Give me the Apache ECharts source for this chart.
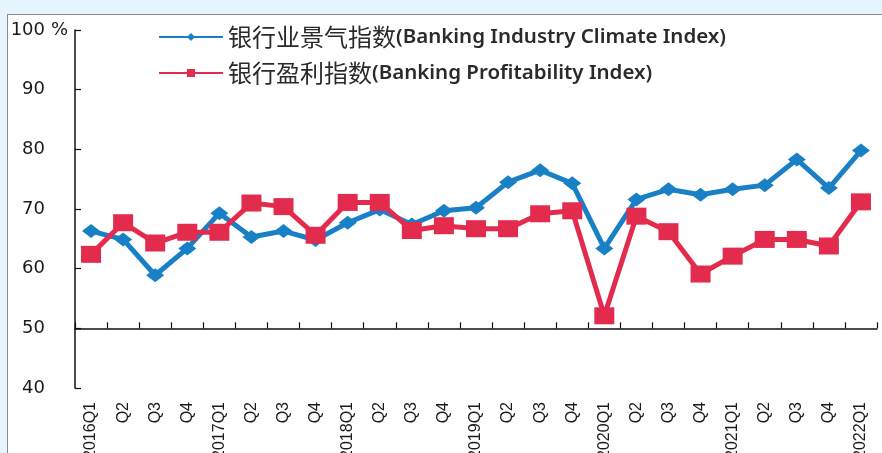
<!DOCTYPE html>
<html>
<head>
<meta charset="utf-8">
<script src="https://cdn.jsdelivr.net/npm/echarts@6/dist/echarts.min.js"></script>
<style>
  html, body { margin: 0; padding: 0; background: #e6f4fb; overflow: hidden; width: 882px; height: 453px; }
  #frame { position: absolute; left: 7px; top: 14px; width: 875px; height: 439px; box-sizing: border-box; background: #ffffff; border-top: 1px solid #8a8a8a; border-left: 1px solid #8a8a8a; }
  #chart { position: absolute; left: 0; top: 0; width: 882px; height: 453px; }
</style>
</head>
<body>
<div id="frame"></div>
<div id="chart"></div>
<script>
const categories = ['2016Q1','Q2','Q3','Q4','2017Q1','Q2','Q3','Q4','2018Q1','Q2','Q3','Q4','2019Q1','Q2','Q3','Q4','2020Q1','Q2','Q3','Q4','2021Q1','Q2','Q3','Q4','2022Q1'];
const climateName = '银行业景气指数(Banking Industry Climate Index)';
const profitName = '银行盈利指数(Banking Profitability Index)';
const climateIndex = [66.3, 64.9, 58.9, 63.4, 69.3, 65.3, 66.3, 64.8, 67.7, 69.9, 67.4, 69.7, 70.2, 74.5, 76.5, 74.3, 63.4, 71.6, 73.3, 72.4, 73.3, 74.0, 78.3, 73.5, 79.8];
const profitIndex = [62.4, 67.7, 64.3, 66.1, 66.1, 71.0, 70.4, 65.6, 71.1, 71.1, 66.4, 67.2, 66.7, 66.7, 69.2, 69.7, 52.1, 68.8, 66.2, 59.1, 62.1, 64.9, 64.9, 63.8, 71.2];
const yMin = 40, yMax = 100, yStep = 10, crossValue = 50;
const unitLabel = '%';

const chart = echarts.init(document.getElementById('chart'), null, { renderer: 'canvas', width: 882, height: 453 });
const gridTop = 30, gridBottom = 65;
const gridH = chart.getHeight() - gridTop - gridBottom;
const crossOffset = -gridH * (crossValue - yMin) / (yMax - yMin);

const labelFont = { fontSize: 18, fontFamily: 'DejaVu Sans', color: '#1a1a1a' };

const option = {
  animation: false,
  backgroundColor: 'transparent',
  grid: { left: 75, right: 5, top: gridTop, bottom: gridBottom, containLabel: false, outerBoundsMode: 'none' },
  legend: {
    orient: 'vertical',
    left: 158,
    top: 24,
    padding: 0,
    itemWidth: 64,
    itemHeight: 10,
    itemGap: 10,
    selectedMode: false,
    formatter: function (name) {
      const i = name.indexOf('(');
      return '{c|' + name.slice(0, i) + '}{e|' + name.slice(i) + '}';
    },
    textStyle: {
      color: '#2a2a2a',
      lineHeight: 26,
      rich: {
        c: { fontFamily: 'Noto Sans CJK SC', fontSize: 24, color: '#2a2a2a', lineHeight: 26 },
        e: { fontFamily: 'Noto Sans', fontSize: 20.5, fontWeight: 600, color: '#2a2a2a', lineHeight: 26 }
      }
    }
  },
  xAxis: [
    {
      type: 'category',
      data: categories,
      position: 'bottom',
      boundaryGap: true,
      axisLine: { show: false },
      axisTick: { show: false },
      axisLabel: {
        interval: 0,
        rotate: 90,
        margin: 14,
        fontSize: 16,
        fontFamily: 'Liberation Sans Narrow, Liberation Sans, sans-serif',
        color: '#1a1a1a'
      },
      splitLine: { show: false }
    },
    {
      type: 'category',
      data: categories,
      position: 'bottom',
      offset: crossOffset,
      boundaryGap: true,
      axisLine: { show: true, onZero: false, lineStyle: { color: '#111', width: 1.5 } },
      axisTick: { show: true, inside: true, length: 6, interval: 0, lineStyle: { color: '#111', width: 1.2 } },
      axisLabel: { show: false },
      splitLine: { show: false }
    }
  ],
  yAxis: [
    {
      type: 'value',
      min: yMin,
      max: yMax,
      interval: yStep,
      axisLine: { show: true, lineStyle: { color: '#111', width: 1.5 } },
      axisTick: { show: true, inside: true, length: 6, lineStyle: { color: '#111', width: 1.2 } },
      axisLabel: Object.assign({ margin: 30 }, labelFont),
      splitLine: { show: false }
    },
    {
      type: 'value',
      position: 'left',
      min: yMin,
      max: yMax,
      interval: yStep,
      axisLine: { show: false },
      axisTick: { show: false },
      axisLabel: Object.assign({
        margin: 7,
        formatter: function (v) { return v === yMax ? unitLabel : ''; }
      }, labelFont),
      splitLine: { show: false }
    }
  ],
  series: [
    {
      name: climateName,
      type: 'line',
      data: climateIndex,
      xAxisIndex: 0,
      yAxisIndex: 0,
      symbol: 'diamond',
      symbolSize: [18, 14],
      color: '#1a80c6',
      lineStyle: { width: 5, color: '#1a80c6' },
      itemStyle: { color: '#1a80c6' },
      emphasis: { disabled: true },
      z: 3
    },
    {
      name: profitName,
      type: 'line',
      data: profitIndex,
      xAxisIndex: 0,
      yAxisIndex: 0,
      symbol: 'rect',
      symbolSize: [20, 17],
      color: '#e32b4e',
      lineStyle: { width: 5, color: '#e32b4e' },
      itemStyle: { color: '#e32b4e' },
      emphasis: { disabled: true },
      z: 4
    }
  ]
};
chart.setOption(option);
</script>
</body>
</html>
